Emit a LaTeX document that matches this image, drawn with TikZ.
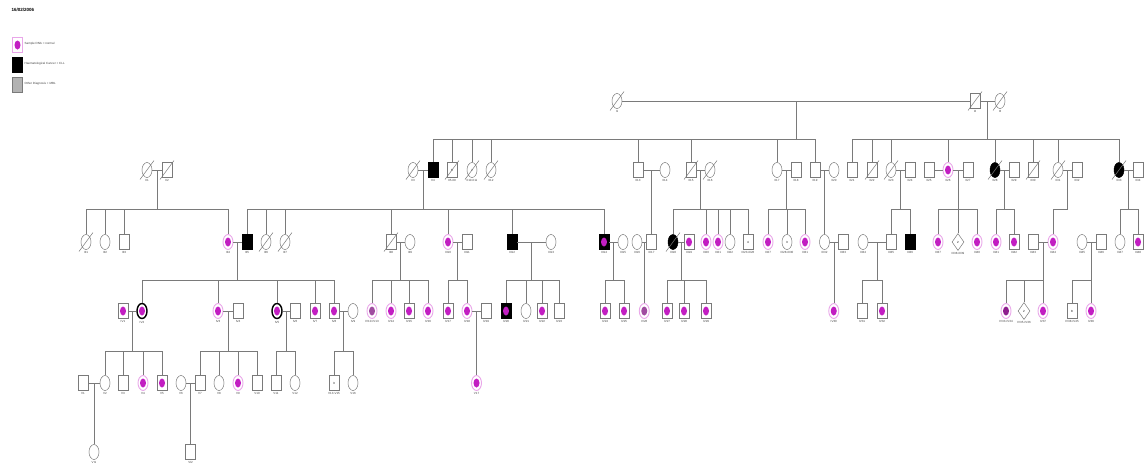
\documentclass[tikz,border=0pt]{standalone}
\usepackage{fontspec}
\setmainfont{Liberation Sans}
\usetikzlibrary{shapes.geometric,calc}
\definecolor{lc}{HTML}{7A7A7A}
\definecolor{magc}{HTML}{C21EC2}
\definecolor{magl}{HTML}{E9A6E9}
\definecolor{magg}{HTML}{A04CA0}
\definecolor{magd}{HTML}{8E1E8E}
\tikzset{
 ln/.style={draw=lc, line width=0.5pt},
 ind/.style={draw=lc, line width=0.5pt, fill=white, inner sep=0pt, minimum width=10pt, minimum height=15pt, font=\fontsize{3}{3}\selectfont},
 ma/.style={ind, rectangle},
 fe/.style={ind, ellipse},
 un/.style={ind, diamond, minimum width=12pt, minimum height=17pt},
 aff/.style={fill=black, draw=black},
 dot/.style={path picture={\fill[#1] (path picture bounding box.center) ellipse (3pt and 4.5pt);}},
 dot/.default=magc,
 mg/.style={dot=magc, draw=magl, line width=0.9pt},
 mgg/.style={dot=magg, draw=magl, line width=0.9pt},
 mgd/.style={dot=magd, draw=magl, line width=0.9pt},
 ring/.style={dot=magc, draw=black, line width=1.4pt},
 lab/.style={font=\fontsize{3}{3.4}\selectfont, text=black!75, inner sep=0.4pt},
}
\newcommand\indiv[5]{\node[#1, label={[lab,label distance=1.3pt]below:#5}] (#2) at (#3,#4) {};}
\newcommand\indivn[6]{\node[#1, label={[lab,label distance=1.3pt]below:#5}] (#2) at (#3,#4) {#6};}
\newcommand\famz[6]{%
  \draw[ln] (#1) -- (#2);
  \coordinate (mm) at ($(#1)!0.5!(#2)$);
  \coordinate (ss) at (0,#3);
  \draw[ln] (mm) -- (mm|-ss);
  \draw[ln] (#4|-ss) -- (#5|-ss);
  \foreach \ch in {#6} {\draw[ln] (\ch|-ss) -- (\ch);}
}
\newcommand\famd[3]{%
  \draw[ln] (#1) -- (#2);
  \coordinate (mm) at ($(#1)!0.5!(#2)$);
  \draw[ln] (mm) -- (#3);
}
\begin{document}
\begin{tikzpicture}[x=1pt,y=-1pt]
\useasboundingbox (0,0) rectangle (1144,472);
% legend
\node[anchor=west, font=\bfseries\fontsize{4.5}{5}\selectfont] (title) at (8,10) {16/02/2006};
\node[ma, dot, draw=magl] (L1) at (17.5,45) {};
\node[anchor=west, lab] (L1t) at (24,44) {Sample DNA = normal};
\node[ma, aff] (L2) at (17.5,65) {};
\node[anchor=west, lab] (L2t) at (24,64) {Haematological Cancer + CLL};
\node[ma, fill=black!30] (L3) at (17.5,85) {};
\node[anchor=west, lab] (L3t) at (24,84) {Other Diagnosis + MBL};
% Gen I
\indiv{fe}{I1}{617}{101}{I1}
\indiv{ma}{I2}{975}{101}{I2}
\indiv{fe}{I3}{1000}{101}{I3}
% Gen II
\indiv{fe}{II1}{147}{170}{II1}
\indiv{ma}{II2}{167}{170}{II2}
\indiv{fe}{II3}{413}{170}{II3}
\indiv{ma,aff}{II4}{433}{170}{II4}
\indivn{ma}{IIa}{452}{170}{II5-II9}{5}
\indivn{fe}{IIb}{472}{170}{II10-II11}{2}
\indiv{fe}{II12}{491}{170}{II12}
\indiv{ma}{II13}{638}{170}{II13}
\indiv{fe}{II14}{665}{170}{II14}
\indiv{ma}{II15}{691}{170}{II15}
\indiv{fe}{II16}{710}{170}{II16}
\indiv{fe}{II17}{777}{170}{II17}
\indiv{ma}{II18}{796}{170}{II18}
\indiv{ma}{II19}{815}{170}{II19}
\indiv{fe}{II20}{834}{170}{II20}
\indiv{ma}{II21}{852}{170}{II21}
\indiv{ma}{II22}{872}{170}{II22}
\indiv{fe}{II23}{891}{170}{II23}
\indiv{ma}{II24}{910}{170}{II24}
\indiv{ma}{II25}{929}{170}{II25}
\indiv{fe,mg}{II26}{948}{170}{II26}
\indiv{ma}{II27}{968}{170}{II27}
\indiv{fe,aff}{II28}{995}{170}{II28}
\indiv{ma}{II29}{1014}{170}{II29}
\indiv{ma}{II30}{1033}{170}{II30}
\indiv{fe}{II31}{1058}{170}{II31}
\indiv{ma}{II32}{1077}{170}{II32}
\indiv{fe,aff}{II33}{1119}{170}{II33}
\indiv{ma}{II34}{1138}{170}{II34}
% Gen III
\indiv{fe}{III1}{86}{242}{III1}
\indiv{fe}{III2}{105}{242}{III2}
\indiv{ma}{III3}{124}{242}{III3}
\indiv{fe,mg}{III4}{228}{242}{III4}
\indiv{ma,aff}{III5}{247}{242}{III5}
\indiv{fe}{III6}{266}{242}{III6}
\indiv{fe}{III7}{285}{242}{III7}
\indiv{ma}{III8}{391}{242}{III8}
\indiv{fe}{III9}{410}{242}{III9}
\indiv{fe,mg}{III10}{448}{242}{III10}
\indiv{ma}{III11}{467}{242}{III11}
\indiv{ma,aff}{III12}{512}{242}{III12}
\indiv{fe}{III13}{551}{242}{III13}
\indiv{ma,aff,dot}{III14}{604}{242}{III14}
\indiv{fe}{III15}{623}{242}{III15}
\indiv{fe}{III16}{637}{242}{III16}
\indiv{ma}{III17}{651.5}{242}{III17}
\indiv{fe,aff}{III18}{673}{242}{III18}
\indiv{ma,dot}{III19}{689}{242}{III19}
\indiv{fe,mg}{III20}{706}{242}{III20}
\indiv{fe,mg}{III21}{718}{242}{III21}
\indiv{fe}{III22}{730}{242}{III22}
\indivn{ma}{IIIa}{748}{242}{III23-III26}{4}
\indiv{fe,mg}{III27}{768}{242}{III27}
\indivn{fe}{IIIb}{787}{242}{III28-III30}{3}
\indiv{fe,mg}{III31}{805}{242}{III31}
\indiv{fe}{III32}{824.5}{242}{III32}
\indiv{ma}{III33}{843}{242}{III33}
\indiv{fe}{III34}{863}{242}{III34}
\indiv{ma}{III35}{891}{242}{III35}
\indiv{ma,aff}{III36}{910}{242}{III36}
\indiv{fe,mg}{III37}{938}{242}{III37}
\indivn{un}{IIIc}{958}{242}{III38-III39}{2}
\indiv{fe,mg}{III40}{977}{242}{III40}
\indiv{fe,mg}{III41}{996}{242}{III41}
\indiv{ma,dot}{III42}{1014}{242}{III42}
\indiv{ma}{III43}{1033}{242}{III43}
\indiv{fe,mg}{III44}{1053}{242}{III44}
\indiv{fe}{III45}{1082}{242}{III45}
\indiv{ma}{III46}{1101}{242}{III46}
\indiv{fe}{III47}{1120}{242}{III47}
\indiv{ma,dot}{III48}{1138}{242}{III48}
% Gen IV
\indiv{ma,dot}{IV1}{123}{311}{IV1}
\indiv{fe,ring}{IV2}{142}{311}{IV2}
\indiv{fe,mg}{IV3}{218}{311}{IV3}
\indiv{ma}{IV4}{238}{311}{IV4}
\indiv{fe,ring}{IV5}{277}{311}{IV5}
\indiv{ma}{IV6}{295}{311}{IV6}
\indiv{ma,dot}{IV7}{315}{311}{IV7}
\indiv{ma,dot}{IV8}{334}{311}{IV8}
\indiv{fe}{IV9}{353}{311}{IV9}
\indiv{fe,mgg}{IVa}{372}{311}{IV10-IV13}
\indiv{fe,mg}{IV14}{391}{311}{IV14}
\indiv{ma,dot}{IV15}{409}{311}{IV15}
\indiv{fe,mg}{IV16}{428}{311}{IV16}
\indiv{ma,dot}{IV17}{448}{311}{IV17}
\indiv{fe,mg}{IV18}{467}{311}{IV18}
\indiv{ma}{IV19}{486}{311}{IV19}
\indiv{ma,aff,dot}{IV20}{506}{311}{IV20}
\indiv{fe}{IV21}{526}{311}{IV21}
\indiv{ma,dot}{IV22}{542}{311}{IV22}
\indiv{ma}{IV23}{559}{311}{IV23}
\indiv{ma,dot}{IV24}{605}{311}{IV24}
\indiv{ma,dot}{IV25}{624}{311}{IV25}
\indiv{fe,mgg}{IV26}{644.25}{311}{IV26}
\indiv{ma,dot}{IV27}{667}{311}{IV27}
\indiv{ma,dot}{IV28}{684}{311}{IV28}
\indiv{ma,dot}{IV29}{706}{311}{IV29}
\indiv{fe,mg}{IV30}{833.75}{311}{IV30}
\indiv{ma}{IV31}{862}{311}{IV31}
\indiv{ma,dot}{IV32}{882}{311}{IV32}
\indiv{fe,mgd}{IVb}{1006}{311}{IV33-IV34}
\indivn{un}{IVc}{1024}{311}{IV35-IV36}{2}
\indiv{fe,mg}{IV37}{1043}{311}{IV37}
\indivn{ma}{IVd}{1072}{311}{IV38-IV45}{8}
\indiv{fe,mg}{IV46}{1091}{311}{IV46}
% Gen V
\indiv{ma}{V1}{83}{383}{V1}
\indiv{fe}{V2}{105}{383}{V2}
\indiv{ma}{V3}{123}{383}{V3}
\indiv{fe,mg}{V4}{143}{383}{V4}
\indiv{ma,dot}{V5}{162}{383}{V5}
\indiv{fe}{V6}{181}{383}{V6}
\indiv{ma}{V7}{200}{383}{V7}
\indiv{fe}{V8}{219}{383}{V8}
\indiv{fe,mg}{V9}{238}{383}{V9}
\indiv{ma}{V10}{257}{383}{V10}
\indiv{ma}{V11}{276}{383}{V11}
\indiv{fe}{V12}{295}{383}{V12}
\indivn{ma}{Va}{334}{383}{V13-V15}{3}
\indiv{fe}{V16}{353}{383}{V16}
\indiv{fe,mg}{V17}{476.5}{383}{V17}
% Gen VI
\indiv{fe}{VI1}{94}{452}{VI1}
\indiv{ma}{VI2}{190.5}{452}{VI2}
% deceased slashes
\foreach \n in {I1,I2,I3,II1,II2,II3,IIa,IIb,II12,II15,II16,II22,II23,II28,II30,II31,II33,III1,III6,III7,III8,III18}
  {\draw[ln] ($(\n.center)+(-7pt,-9.5pt)$) -- ($(\n.center)+(7pt,9.5pt)$);}
% families
\famz{I1}{I2}{139}{II4}{II19}{II4,IIa,IIb,II12,II13,II15,II17,II19}
\famz{I2}{I3}{139}{II21}{II33}{II21,II22,II23,II26,II28,II30,II31,II33}
\famz{II1}{II2}{209}{III1}{III4}{III1,III2,III3,III4}
\famz{II3}{II4}{209}{III5}{III14}{III5,III6,III7,III8,III10,III12,III14}
\famd{II13}{II14}{III17}
\famz{II15}{II16}{209}{III18}{IIIa}{III18,III20,III21,III22,IIIa}
\famz{II17}{II18}{209}{III27}{III31}{III27,IIIb,III31}
\famd{II19}{II20}{III32}
\famz{II23}{II24}{209}{III35}{III36}{III35,III36}
\draw[ln] (II25) -- (II26);
\famz{II26}{II27}{209}{III37}{III40}{III37,IIIc,III40}
\famz{II28}{II29}{209}{III41}{III42}{III41,III42}
\famz{II31}{II32}{209}{III44}{mm}{III44}
\famz{II33}{II34}{209}{III47}{III48}{III47,III48}
\famz{III4}{III5}{280}{IV2}{IV8}{IV2,IV3,IV5,IV7,IV8}
\famz{III8}{III9}{280}{IVa}{IV16}{IVa,IV14,IV15,IV16}
\famz{III10}{III11}{280}{IV17}{IV18}{IV17,IV18}
\famz{III12}{III13}{280}{IV20}{IV23}{IV20,IV21,IV22,IV23}
\famz{III14}{III15}{280}{IV24}{IV25}{IV24,IV25}
\famd{III16}{III17}{IV26}
\famz{III18}{III19}{280}{IV27}{IV29}{IV27,IV28,IV29}
\famd{III32}{III33}{IV30}
\famz{III34}{III35}{280}{IV31}{IV32}{IV31,IV32}
\famz{III43}{III44}{280}{IVb}{IV37}{IVb,IVc,IV37}
\famz{III45}{III46}{280}{IVd}{IV46}{IVd,IV46}
\famz{IV1}{IV2}{351}{V2}{V5}{V2,V3,V4,V5}
\famz{IV3}{IV4}{351}{V7}{V10}{V7,V8,V9,V10}
\famz{IV5}{IV6}{351}{V11}{V12}{V11,V12}
\famz{IV8}{IV9}{351}{Va}{V16}{Va,V16}
\famd{IV18}{IV19}{V17}
\famd{V1}{V2}{VI1}
\famd{V6}{V7}{VI2}
\end{tikzpicture}
\end{document}
